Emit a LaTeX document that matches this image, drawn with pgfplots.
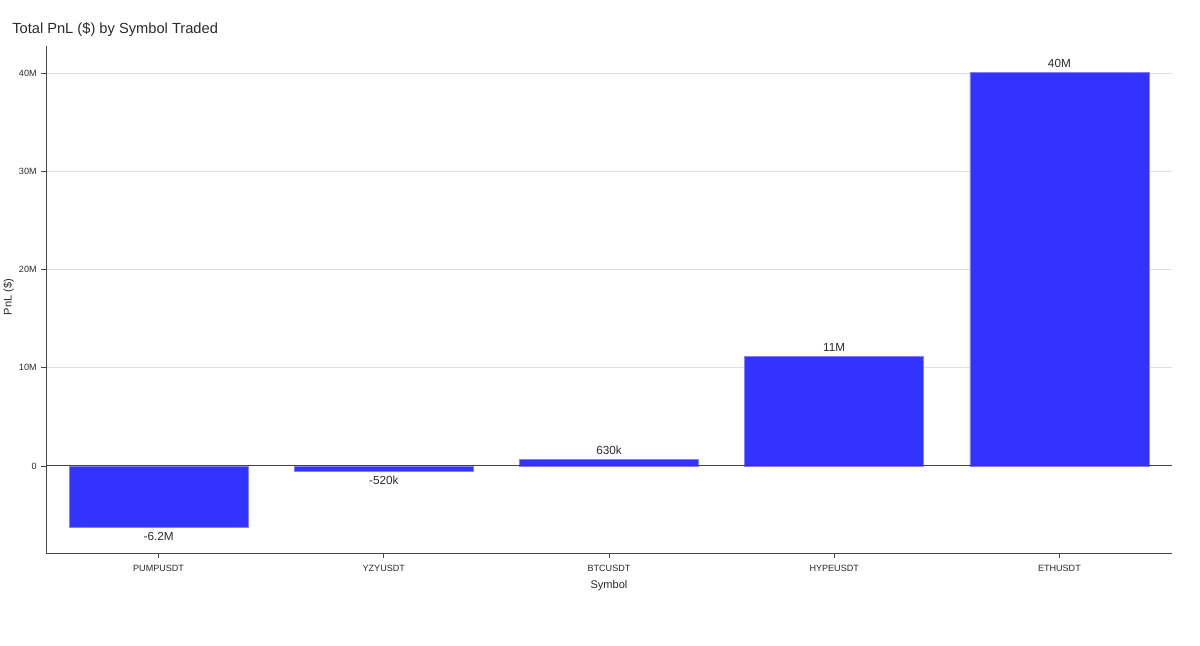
\documentclass[border=0pt]{standalone}
\usepackage{pgfplots}
\pgfplotsset{compat=1.18}
\usepackage{fontspec}
\setmainfont{Liberation Sans}
\definecolor{barblue}{RGB}{51,51,255}
\definecolor{baredge}{RGB}{130,130,255}
\definecolor{txt}{RGB}{42,42,42}
\definecolor{axc}{RGB}{68,68,68}
\begin{document}
\begin{tikzpicture}
\path[use as bounding box] (0pt,0pt) rectangle (900pt,484.5pt);
\node[anchor=base west, inner sep=0pt, font=\fontsize{11}{13}\selectfont, text=txt] at (9pt,459pt) {Total PnL (\$) by Symbol Traded};
\begin{axis}[
  at={(34.5pt,69.75pt)}, anchor=south west,
  width=844.5pt, height=380.25pt, scale only axis,
  xmin=-0.5, xmax=4.5, ymin=-8.86, ymax=42.75,
  axis x line*=bottom, axis y line*=left,
  axis line style={axc, line width=0.7pt},
  xtick={0,1,2,3,4},
  xticklabels={PUMPUSDT,YZYUSDT,BTCUSDT,HYPEUSDT,ETHUSDT},
  ytick={0,10,20,30,40},
  yticklabels={0,10M,20M,30M,40M},
  tick align=outside, major tick length=3.5pt,
  tick style={axc, line width=0.6pt},
  ticklabel style={font=\fontsize{6.8}{8}\selectfont, text=txt},
  xticklabel style={yshift=-2pt},
  ymajorgrids, grid style={color=black!13, line width=0.7pt},
  ybar, bar width=134.25pt, bar shift=0pt,
  nodes near coords={\pgfplotspointmeta},
  point meta=explicit symbolic,
  every node near coord/.append style={font=\fontsize{8.8}{11}\selectfont, text=txt},
  clip=false,
]
\addplot[fill=barblue, draw=baredge, line width=0.5pt, bar shift=0pt,
  every node near coord/.append style={anchor=north}] coordinates {
  (0,-6.24) [-6.2M]
  (1,-0.52) [-520k]
};
\addplot[fill=barblue, draw=baredge, line width=0.5pt, bar shift=0pt] coordinates {
  (2,0.63) [630k]
  (3,11.17) [11M]
  (4,40.1) [40M]
};
\draw[axc, line width=0.7pt] (axis cs:-0.5,0) -- (axis cs:4.5,0);
\end{axis}
\node[rotate=90, font=\fontsize{8.3}{10}\selectfont, text=txt] at (6.5pt,261.75pt) {PnL (\$)};
\node[font=\fontsize{8.3}{10}\selectfont, text=txt] at (456.75pt,45pt) {Symbol};
\end{tikzpicture}
\end{document}
